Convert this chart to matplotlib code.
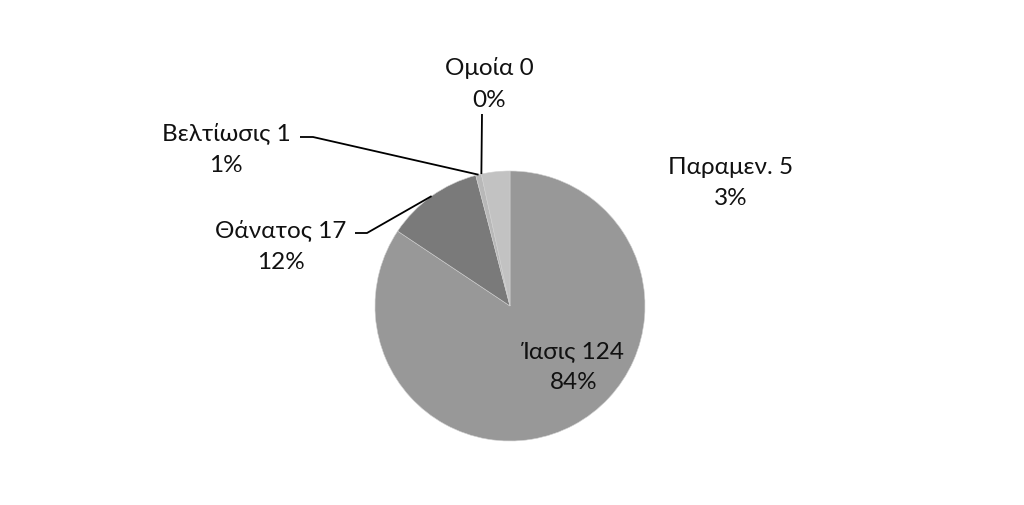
import numpy as np
import matplotlib.pyplot as plt

plt.rcParams['font.family'] = ['Lato', 'DejaVu Sans']

# data
labels = ['Ίασις', 'Θάνατος', 'Βελτίωσις', 'Ομοία', 'Παραμεν.']
counts = [124, 17, 1, 0, 5]
pcts = ['84%', '12%', '1%', '0%', '3%']
colors = ['#989898', '#7a7a7a', '#b8b8b8', '#b8b8b8', '#c2c2c2']

W, H = 1024, 506
fig = plt.figure(figsize=(W / 100, H / 100), dpi=100)
ax = fig.add_axes([0, 0, 1, 1])

cx, cy, R = 510, 307, 135
# y axis is inverted below, so run the pie counterclockwise from -90 to get clockwise from the top
wedges, _ = ax.pie(counts, colors=colors, startangle=-90, counterclock=True,
                   center=(cx, cy), radius=R, frame=True,
                   wedgeprops=dict(linewidth=0.4, edgecolor='#d0d0d0'))
ax.set_xlim(0, W)
ax.set_ylim(H, 0)
ax.set_aspect('equal')
ax.axis('off')

# label text positions (centre of the two-line block) and leader elbows
txt_pos = {
    'Ίασις': (574, 367),
    'Θάνατος': (281, 246),
    'Βελτίωσις': (226, 149),
    'Ομοία': (489, 84),
    'Παραμεν.': (731, 183),
}
elbows = {
    'Θάνατος': [(355, 234), (367, 234)],
    'Βελτίωσις': [(300, 138), (313, 138)],
    'Ομοία': [(482, 115)],
}

for w, lab, n, p in zip(wedges, labels, counts, pcts):
    x, y = txt_pos[lab]
    ax.text(x, y, f'{lab} {n}\n{p}', ha='center', va='center',
            fontsize=17.5, color='#111111', linespacing=1.6)
    if lab in elbows:
        mid = np.deg2rad((w.theta1 + w.theta2) / 2)
        px = cx + R * np.cos(mid)
        py = cy + R * np.sin(mid)
        pts = elbows[lab] + [(px, py)]
        ax.plot([q[0] for q in pts], [q[1] for q in pts], color='black', lw=1.3,
                solid_capstyle='butt')

fig.savefig('out.png', dpi=100, facecolor='white')
